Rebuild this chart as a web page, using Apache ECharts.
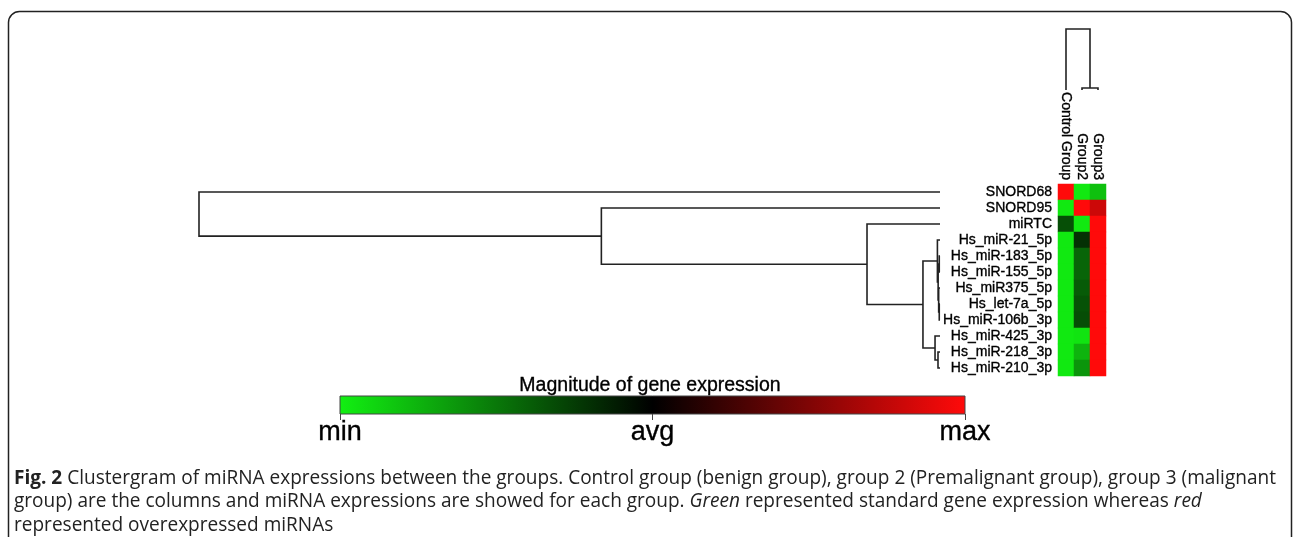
<!DOCTYPE html>
<html><head><meta charset="utf-8">
<script src="https://cdn.jsdelivr.net/npm/echarts@6/dist/echarts.min.js"></script>
<style>html,body{margin:0;padding:0;background:#fff}#c{width:1293px;height:537px}</style>
</head><body><div id="c"></div>
<script>
const groups = ['Control Group', 'Group2', 'Group3'];
const mirnas = ['SNORD68', 'SNORD95', 'miRTC', 'Hs_miR-21_5p', 'Hs_miR-183_5p', 'Hs_miR-155_5p',
  'Hs_miR375_5p', 'Hs_let-7a_5p', 'Hs_miR-106b_3p', 'Hs_miR-425_3p', 'Hs_miR-218_3p', 'Hs_miR-210_3p'];
// relative expression: -1 = min (green), 0 = avg (black), 1 = max (red)
const controlValues = [1, -0.97, -0.33, -0.97, -0.97, -0.97, -0.97, -0.97, -0.97, -0.97, -0.97, -0.97];
const group2Values = [-0.97, 1, -0.97, -0.2, -0.42, -0.42, -0.38, -0.34, -0.32, -0.95, -0.75, -0.62];
const group3Values = [-0.8, 0.8, 1, 1, 1, 1, 1, 1, 1, 1, 1, 1];
// row dendrogram merges [childA, childB, height]; leaves are row indices, new nodes numbered from 12
const rowMerges = [
  [4, 5, 0.1], [7, 8, 0.1], [6, 13, 0.18], [12, 14, 0.25], [3, 15, 0.35],
  [10, 11, 0.27], [9, 17, 0.67], [16, 18, 2.3], [2, 19, 9.85], [1, 20, 45.7], [0, 21, 100]
];
// column dendrogram merges; leaves are column indices, new nodes from 3
const colMerges = [[1, 2, 3.3], [0, 3, 100]];
const scaleLabels = ['min', 'avg', 'max'];
const scaleTitle = 'Magnitude of gene expression';
const captionLines = [
  '{b|Fig. 2} Clustergram of miRNA expressions between the groups. Control group (benign group), group 2 (Premalignant group), group 3 (malignant',
  'group) are the columns and miRNA expressions are showed for each group. {i|Green} represented standard gene expression whereas {i|red}',
  'represented overexpressed miRNAs'
];

const GREEN = '#12f012', BLACK = '#000000', RED = '#ff0a0a';

function dendroSegments(nLeaves, merges) {
  const pos = [], hgt = [];
  for (let i = 0; i < nLeaves; i++) { pos.push(i); hgt.push(0); }
  const out = [];
  merges.forEach(([a, b, h]) => {
    out.push([pos[a], hgt[a], pos[b], hgt[b], h]);
    pos.push((pos[a] + pos[b]) / 2); hgt.push(h);
  });
  return out;
}
const rowSegs = dendroSegments(mirnas.length, rowMerges);
const colSegs = dendroSegments(groups.length, colMerges);

const heatData = [];
[controlValues, group2Values, group3Values].forEach((arr, c) => arr.forEach((v, r) => heatData.push([c, r, v])));

const lineStyle = { stroke: '#222', lineWidth: 1.6, fill: null };
const chart = echarts.init(document.getElementById('c'));
const FONT = 'Liberation Sans';
const CAP = 19.05;
const heavy = { textBorderColor: '#000', textBorderWidth: 0.35 };
chart.setOption({
  animation: false,
  textStyle: { fontFamily: FONT },
  title: [{
    text: scaleTitle, left: 645, top: 371, textAlign: 'center',
    textStyle: Object.assign({ fontSize: 19.5, fontWeight: 'normal', color: '#000', fontFamily: FONT }, heavy)
  }],
  grid: [
    { left: 1058, top: 184, width: 48, height: 192 },           // heatmap
    { left: 199, top: 184, width: 741, height: 192 },           // row dendrogram
    { left: 1058, top: 29, width: 48, height: 61 },             // column dendrogram
    { left: 340, top: 396, width: 625, height: 18, show: true, borderColor: '#444', borderWidth: 1,
      backgroundColor: new echarts.graphic.LinearGradient(0, 0, 1, 0, [
        { offset: 0, color: GREEN }, { offset: 0.5, color: BLACK }, { offset: 1, color: RED }]) }
  ],
  xAxis: [
    { gridIndex: 0, type: 'category', data: groups, position: 'top',
      axisLine: { show: false }, axisTick: { show: false },
      axisLabel: Object.assign({ rotate: 90, fontSize: 14, color: '#000', margin: 4, interval: 0 }, heavy) },
    { gridIndex: 1, type: 'value', min: 0, max: 100, inverse: true, show: false },
    { gridIndex: 2, type: 'value', min: -0.5, max: 2.5, show: false },
    { gridIndex: 3, type: 'value', min: 0, max: 2, interval: 1, position: 'bottom',
      axisLine: { show: false }, splitLine: { show: false },
      axisTick: { show: true, length: 6, lineStyle: { color: '#444' } },
      axisLabel: Object.assign({ fontSize: 27, color: '#000', margin: 5, formatter: v => scaleLabels[v] }, heavy) }
  ],
  yAxis: [
    { gridIndex: 0, type: 'category', data: mirnas, inverse: true,
      axisLine: { show: false }, axisTick: { show: false },
      axisLabel: Object.assign({ fontSize: 14, color: '#000', margin: 6, interval: 0 }, heavy) },
    { gridIndex: 1, type: 'value', min: -0.5, max: 11.5, inverse: true, show: false },
    { gridIndex: 2, type: 'value', min: 0, max: 100, show: false },
    { gridIndex: 3, type: 'value', show: false }
  ],
  visualMap: { show: false, min: -1, max: 1, seriesIndex: 0, inRange: { color: [GREEN, BLACK, RED] } },
  series: [
    { type: 'heatmap', xAxisIndex: 0, yAxisIndex: 0, data: heatData, itemStyle: { borderWidth: 0 } },
    { type: 'custom', xAxisIndex: 1, yAxisIndex: 1, data: rowSegs,
      renderItem: (p, api) => {
        const pts = [api.coord([api.value(1), api.value(0)]), api.coord([api.value(4), api.value(0)]),
                     api.coord([api.value(4), api.value(2)]), api.coord([api.value(3), api.value(2)])];
        return { type: 'polyline', shape: { points: pts }, style: lineStyle };
      } },
    { type: 'custom', xAxisIndex: 2, yAxisIndex: 2, data: colSegs,
      renderItem: (p, api) => {
        const pts = [api.coord([api.value(0), api.value(1)]), api.coord([api.value(0), api.value(4)]),
                     api.coord([api.value(2), api.value(4)]), api.coord([api.value(2), api.value(3)])];
        return { type: 'polyline', shape: { points: pts }, style: lineStyle };
      } },
    { type: 'custom', xAxisIndex: 3, yAxisIndex: 3, data: [], renderItem: () => null }
  ],
  graphic: [
    { type: 'rect', shape: { x: 8.5, y: 11.5, width: 1283, height: 600, r: 11 }, silent: true,
      style: { fill: null, stroke: '#222', lineWidth: 1.5 } },
    ...captionLines.map((t, i) => ({
      type: 'text', left: 14, top: 469 + i * 23.5, silent: true,
      style: { text: t, fontFamily: 'Open Sans', fontSize: CAP, fill: '#222',
        rich: { b: { fontWeight: 'bold', fontFamily: 'Open Sans', fontSize: CAP, fill: '#222' },
                i: { fontStyle: 'italic', fontFamily: 'Open Sans', fontSize: CAP, fill: '#222' } } }
    }))
  ]
});
</script></body></html>
